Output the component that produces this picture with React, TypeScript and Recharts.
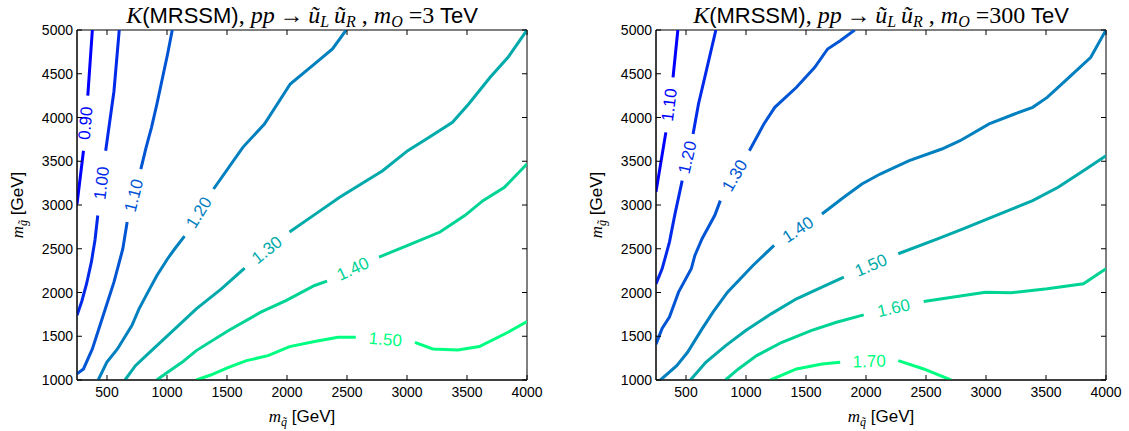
import React from 'react';
import { LineChart, Line, XAxis, YAxis, ReferenceDot, ReferenceArea } from 'recharts';

type Pt = [number, number] | null;

const xTicks = [500, 1000, 1500, 2000, 2500, 3000, 3500, 4000];
const yTicks = [1000, 1500, 2000, 2500, 3000, 3500, 4000, 4500, 5000];
const xDomain: [number, number] = [250, 4000];
const yDomain: [number, number] = [1000, 5000];

const levelColors = ['#0000ff', '#002aea', '#0055d4', '#0080bf', '#00aaaa', '#00d495', '#00ff80'];

// Left panel: m_O = 3 TeV  (null = gap where the inline label sits)
const leftLevels = ['0.90', '1.00', '1.10', '1.20', '1.30', '1.40', '1.50'];
const left090: Pt[] = [[378, 5000], [340, 4250], null, [304, 3620], [250, 3010]];
const left100: Pt[] = [[602, 5000], [558, 4300], [489, 3620], null, [423, 2880], [400, 2600], [370, 2350], [330, 2100], [290, 1900], [250, 1740]];
const left110: Pt[] = [[1044, 5000], [1005, 4726], [916, 4154], [871, 3888], [826, 3659], [782, 3411], null, [668, 2805], [632, 2500], [558, 2118], [468, 1737], [378, 1355], [304, 1126], [250, 1070]];
const left120: Pt[] = [[2493, 5000], [2379, 4783], [2230, 4612], [2027, 4383], [1812, 3926], [1632, 3659], [1388, 3183], null, [1146, 2645], [1065, 2500], [1005, 2386], [916, 2195], [841, 2004], [767, 1813], [707, 1622], [587, 1355], [498, 1202], [427, 1000]];
const left130: Pt[] = [[4000, 5000], [3842, 4688], [3693, 4459], [3514, 4154], [3379, 3945], [3185, 3773], [3006, 3621], [2797, 3392], [2618, 3240], [2439, 3088], [2230, 2890], [2021, 2691], null, [1647, 2279], [1453, 2042], [1244, 1813], [1095, 1622], [976, 1469], [826, 1279], [737, 1164], [650, 1000]];
const left140: Pt[] = [[4000, 3469], [3812, 3202], [3633, 3050], [3484, 2882], [3275, 2691], [3006, 2538], [2767, 2405], null, [2334, 2130], [2230, 2080], [1991, 1908], [1782, 1775], [1513, 1565], [1244, 1336], [1125, 1202], [1005, 1088], [914, 1000]];
const left150: Pt[] = [[4000, 1668], [3842, 1546], [3603, 1382], [3424, 1344], [3215, 1355], [3066, 1431], null, [2573, 1489], [2424, 1489], [2230, 1439], [2021, 1382], [1842, 1279], [1662, 1221], [1513, 1145], [1364, 1057], [1244, 1000]];
const leftContours = [left090, left100, left110, left120, left130, left140, left150];

// Right panel: m_O = 300 TeV
const rightLevels = ['1.10', '1.20', '1.30', '1.40', '1.50', '1.60', '1.70'];
const right110: Pt[] = [[432, 5000], [392, 4459], null, [332, 3830], [250, 3150]];
const right120: Pt[] = [[749, 5000], [650, 4421], [604, 4154], [559, 3811], null, [468, 3278], [407, 2890], [362, 2576], [332, 2424], [301, 2271], [250, 2099]];
const right130: Pt[] = [[1906, 5000], [1785, 4878], [1680, 4783], [1573, 4573], [1421, 4345], [1240, 4116], [1149, 3926], [1028, 3621], null, [786, 3050], [740, 2882], [634, 2615], [574, 2424], [544, 2271], [438, 2004], [362, 1720], [301, 1590], [250, 1410]];
const right140: Pt[] = [[4000, 5000], [3873, 4688], [3692, 4459], [3510, 4230], [3389, 4116], [3238, 4040], [3026, 3926], [2784, 3735], [2632, 3640], [2360, 3507], [2118, 3354], [1966, 3240], [1815, 3088], [1633, 2897], null, [1234, 2538], [1058, 2309], [846, 2004], [725, 1775], [634, 1584], [513, 1317], [423, 1164], [287, 1000]];
const right150: Pt[] = [[4000, 3564], [3812, 3392], [3601, 3202], [3389, 3050], [3086, 2882], [2814, 2729], [2602, 2615], [2269, 2443], null, [1815, 2176], [1633, 2061], [1421, 1928], [1210, 1756], [998, 1565], [831, 1393], [665, 1202], [537, 1000]];
const right160: Pt[] = [[4000, 2271], [3812, 2099], [3510, 2042], [3207, 1996], [2996, 2004], [2814, 1966], [2481, 1897], null, [1981, 1744], [1754, 1660], [1542, 1565], [1300, 1431], [1089, 1279], [937, 1126], [829, 1000]];
const right170: Pt[] = [[1204, 1000], [1421, 1126], [1633, 1183], [1785, 1202], null, [2269, 1221], [2481, 1126], [2708, 1000]];
const rightContours = [right110, right120, right130, right140, right150, right160, right170];

const PLOT_W = 450;
const PLOT_H = 350;
const PLOT_LEFT = 77;
const TICK_LEN = 5;
const SANS = '"Liberation Sans", Arial, Helvetica, sans-serif';
const SERIF = '"Liberation Serif", "DejaVu Serif", serif';

function toRows(pts: Pt[]) {
  const rows: { x: number; y: number | null }[] = [];
  let lastX = (pts[0] as [number, number])[0];
  for (const p of pts) {
    if (p) {
      rows.push({ x: p[0], y: p[1] });
      lastX = p[0];
    } else {
      rows.push({ x: lastX, y: null });
    }
  }
  return rows;
}

function labelSpot(pts: Pt[]) {
  const i = pts.indexOf(null);
  const a = pts[i - 1] as [number, number];
  const b = pts[i + 1] as [number, number];
  const [l, r] = a[0] <= b[0] ? [a, b] : [b, a];
  const dx = ((r[0] - l[0]) * PLOT_W) / (xDomain[1] - xDomain[0]);
  const dy = (-(r[1] - l[1]) * PLOT_H) / (yDomain[1] - yDomain[0]);
  return { x: (a[0] + b[0]) / 2, y: (a[1] + b[1]) / 2, angle: (Math.atan2(dy, dx) * 180) / Math.PI };
}

// bottom tick: label + inward tick on bottom edge and mirrored inward tick on top edge
function BottomTick(props: any) {
  const { x, y, payload } = props;
  return (
    <g>
      <line x1={x} x2={x} y1={y} y2={y - TICK_LEN} stroke="#000" strokeWidth={1} />
      <line x1={x} x2={x} y1={y - PLOT_H} y2={y - PLOT_H + TICK_LEN} stroke="#000" strokeWidth={1} />
      <text x={x} y={y + 17} textAnchor="middle" fill="#000" fontSize={14} fontFamily={SANS}>
        {payload.value}
      </text>
    </g>
  );
}

// left tick: label + inward tick on left edge and mirrored inward tick on right edge
function LeftTick(props: any) {
  const { x, y, payload } = props;
  return (
    <g>
      <line x1={x} x2={x + TICK_LEN} y1={y} y2={y} stroke="#000" strokeWidth={1} />
      <line x1={x + PLOT_W} x2={x + PLOT_W - TICK_LEN} y1={y} y2={y} stroke="#000" strokeWidth={1} />
      <text x={x - 4} y={y + 5} textAnchor="end" fill="#000" fontSize={14} fontFamily={SANS}>
        {payload.value}
      </text>
    </g>
  );
}

function Panel({ left, width, contours, levels }: { left: number; width: number; contours: Pt[][]; levels: string[] }) {
  return (
    <div style={{ position: 'absolute', left, top: 0 }}>
      <LineChart
        width={width}
        height={431}
        margin={{ top: 30, right: width - PLOT_LEFT - PLOT_W, bottom: 21, left: 17 }}
      >
        <XAxis
          xAxisId="b"
          type="number"
          dataKey="x"
          domain={xDomain}
          ticks={xTicks}
          interval={0}
          allowDataOverflow
          orientation="bottom"
          height={30}
          tickSize={0}
          tickMargin={0}
          tickLine={false}
          axisLine={{ stroke: '#000', strokeWidth: 1 }}
          tick={<BottomTick />}
        />
        <YAxis
          yAxisId="l"
          type="number"
          domain={yDomain}
          ticks={yTicks}
          interval={0}
          allowDataOverflow
          orientation="left"
          width={60}
          tickSize={0}
          tickMargin={0}
          tickLine={false}
          axisLine={{ stroke: '#000', strokeWidth: 1 }}
          tick={<LeftTick />}
        />
        {contours.map((c, i) => (
          <Line
            key={'c' + i}
            xAxisId="b"
            yAxisId="l"
            data={toRows(c)}
            dataKey="y"
            type="linear"
            stroke={levelColors[i]}
            strokeWidth={3}
            dot={false}
            activeDot={false}
            connectNulls={false}
            isAnimationActive={false}
          />
        ))}
        {contours.map((c, i) => {
          const s = labelSpot(c);
          return (
            <ReferenceDot
              key={'l' + i}
              xAxisId="b"
              yAxisId="l"
              x={s.x}
              y={s.y}
              r={0}
              shape={(p: any) => (
                <text
                  x={p.cx}
                  y={p.cy}
                  transform={`rotate(${s.angle} ${p.cx} ${p.cy})`}
                  textAnchor="middle"
                  dominantBaseline="central"
                  fill={levelColors[i]}
                  fontSize={17}
                  fontFamily={SANS}
                >
                  {levels[i]}
                </text>
              )}
            />
          );
        })}
        <ReferenceArea
          xAxisId="b"
          yAxisId="l"
          x1={xDomain[0]}
          x2={xDomain[1]}
          y1={yDomain[0]}
          y2={yDomain[1]}
          fill="none"
          fillOpacity={0}
          stroke="#000"
          strokeWidth={1}
          ifOverflow="visible"
        />
      </LineChart>
    </div>
  );
}

function Title({ cx, mo }: { cx: number; mo: string }) {
  const it = { fontFamily: SERIF, fontStyle: 'italic' as const, fontSize: 24 };
  const rm = { fontFamily: SERIF, fontSize: 24 };
  const sn = { fontFamily: SANS, fontSize: 22 };
  return (
    <text x={cx} y={23} textAnchor="middle" fill="#000">
      <tspan {...it}>K</tspan>
      <tspan {...sn}>(MRSSM)</tspan>
      <tspan {...rm}>, </tspan>
      <tspan {...it}>pp</tspan>
      <tspan {...rm}>{'\u2009→\u2009'}</tspan>
      <tspan {...it}>ũ</tspan>
      <tspan {...it} fontSize={16} dy={4}>L</tspan>
      <tspan {...rm} dy={-4}>{'\u2009'}</tspan>
      <tspan {...it}>ũ</tspan>
      <tspan {...it} fontSize={16} dy={4}>R</tspan>
      <tspan {...rm} dy={-4}> , </tspan>
      <tspan {...it}>m</tspan>
      <tspan {...it} fontSize={16} dy={4}>O</tspan>
      <tspan {...rm} dy={-4}>{' =' + mo}</tspan>
      <tspan {...sn}> TeV</tspan>
    </text>
  );
}

function XLabel({ cx }: { cx: number }) {
  return (
    <text x={cx} y={422} textAnchor="middle" fontSize={17} fill="#000">
      <tspan fontFamily={SERIF} fontStyle="italic">m</tspan>
      <tspan fontFamily={SERIF} fontStyle="italic" fontSize={12} dy={4}>q̃</tspan>
      <tspan fontFamily={SANS} dy={-4}> [GeV]</tspan>
    </text>
  );
}

function YLabel({ x, cy }: { x: number; cy: number }) {
  return (
    <text x={x} y={cy} transform={`rotate(-90 ${x} ${cy})`} textAnchor="middle" fontSize={17} fill="#000">
      <tspan fontFamily={SERIF} fontStyle="italic">m</tspan>
      <tspan fontFamily={SERIF} fontStyle="italic" fontSize={12} dy={4}>g̃</tspan>
      <tspan fontFamily={SANS} dy={-4}> [GeV]</tspan>
    </text>
  );
}

export default function App() {
  const rightLeft = 579;
  const lc = PLOT_LEFT + PLOT_W / 2;
  const rc = rightLeft + PLOT_LEFT + PLOT_W / 2;
  return (
    <div style={{ position: 'absolute', left: 0, top: 0, width: 1129, height: 431, background: '#fff', fontFamily: SANS }}>
      <Panel left={0} width={560} contours={leftContours} levels={leftLevels} />
      <Panel left={rightLeft} width={550} contours={rightContours} levels={rightLevels} />
      <svg width={1129} height={431} style={{ position: 'absolute', left: 0, top: 0, pointerEvents: 'none' }}>
        <Title cx={lc} mo="3" />
        <Title cx={rc} mo="300" />
        <XLabel cx={lc} />
        <XLabel cx={rc} />
        <YLabel x={23} cy={205} />
        <YLabel x={rightLeft + 23} cy={205} />
      </svg>
    </div>
  );
}
